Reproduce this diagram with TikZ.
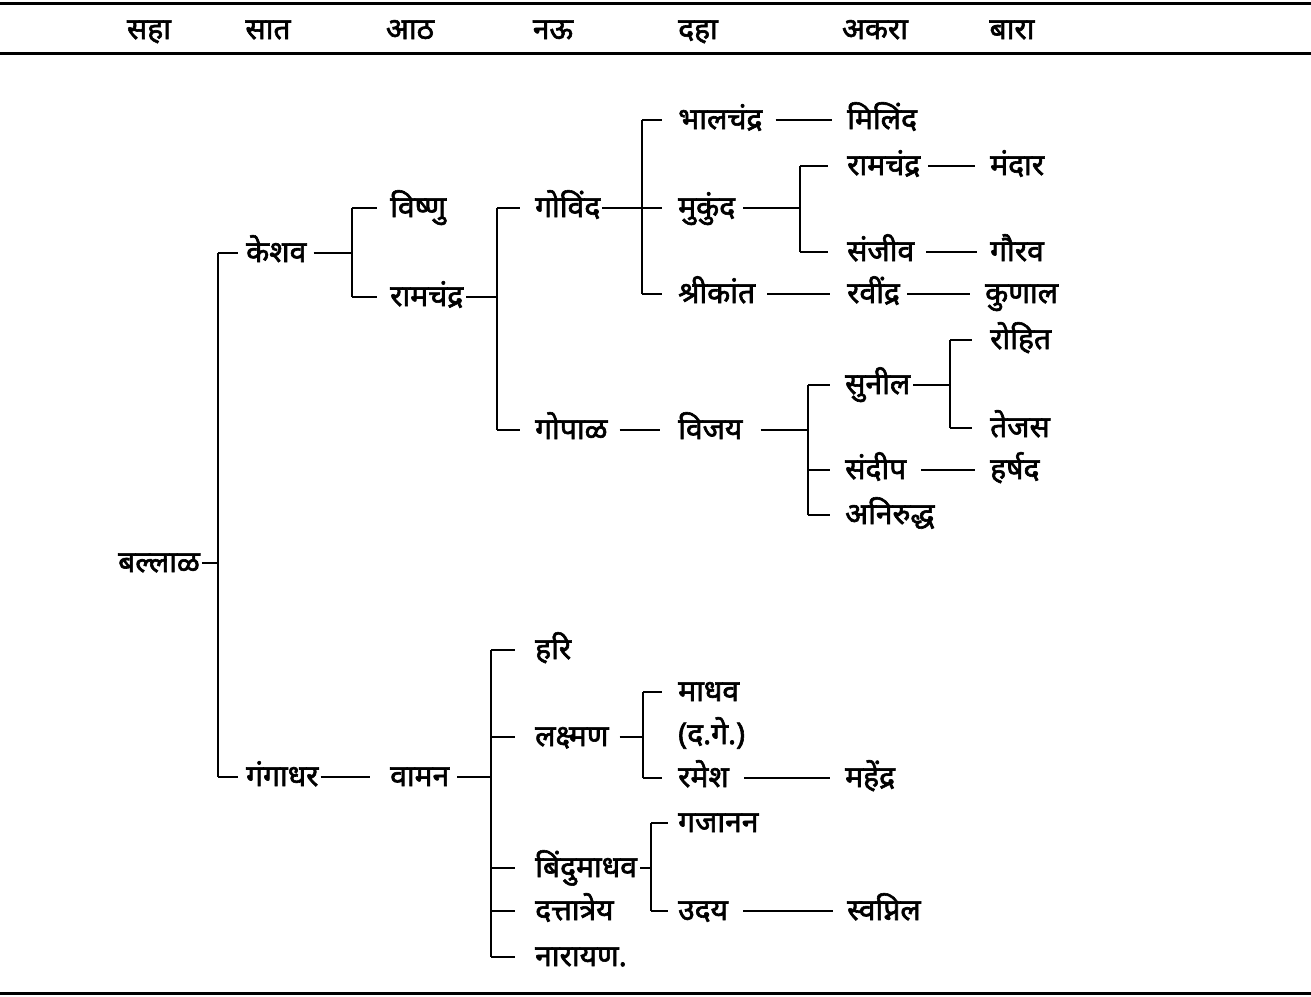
\documentclass[tikz,border=0pt]{standalone}
\usepackage{fontspec}
\setmainfont{Noto Sans}[Script=Devanagari, FakeBold=2]
\newcommand{\tfont}{\fontsize{30}{36}\selectfont}
\begin{document}
\begin{tikzpicture}[x=1pt,y=-1pt,
  person/.style={anchor=west, inner sep=0pt, text height=22pt, text depth=4pt, font=\tfont},
  hdr/.style={anchor=center, inner sep=0pt, text height=22pt, text depth=4pt, font=\tfont},
  link/.style={line width=2.6pt, line cap=butt},
  rule/.style={line width=3pt}]
\useasboundingbox (0,0) rectangle (1311,996);
% rules
\draw[rule] (0,3) -- (1311,3);
\draw[rule] (0,53) -- (1311,53);
\draw[rule] (0,993) -- (1311,993);
% header
\node[hdr] (h6) at (149,30) {सहा};
\node[hdr] (h7) at (268,30) {सात};
\node[hdr] (h8) at (410,30) {आठ};
\node[hdr] (h9) at (553,30) {नऊ};
\node[hdr] (h10) at (698,30) {दहा};
\node[hdr] (h11) at (875,30) {अकरा};
\node[hdr] (h12) at (1012,30) {बारा};
% people
\node[person] (ballal) at (118,563) {बल्लाळ};
\node[person] (keshav) at (246,253) {केशव};
\node[person] (gangadhar) at (246,777) {गंगाधर};
\node[person] (vishnu) at (390,208) {विष्णु};
\node[person] (ramA) at (390,297) {रामचंद्र};
\node[person] (govind) at (535,208) {गोविंद};
\node[person] (gopal) at (535,430) {गोपाळ};
\node[person] (bhal) at (678,120) {भालचंद्र};
\node[person] (milind) at (847,120) {मिलिंद};
\node[person] (mukund) at (678,208) {मुकुंद};
\node[person] (ramB) at (847,166) {रामचंद्र};
\node[person] (mandar) at (990,166) {मंदार};
\node[person] (sanjiv) at (847,252) {संजीव};
\node[person] (gaurav) at (990,252) {गौरव};
\node[person] (shrikant) at (678,294) {श्रीकांत};
\node[person] (ravindra) at (847,294) {रवींद्र};
\node[person] (kunal) at (985,294) {कुणाल};
\node[person] (vijay) at (678,430) {विजय};
\node[person] (sunil) at (845,385) {सुनील};
\node[person] (rohit) at (990,340) {रोहित};
\node[person] (tejas) at (990,428) {तेजस};
\node[person] (sandip) at (845,470) {संदीप};
\node[person] (harshad) at (990,470) {हर्षद};
\node[person] (aniruddha) at (845,515) {अनिरुद्ध};
\node[person] (vaman) at (390,777) {वामन};
\node[person] (hari) at (535,650) {हरि};
\node[person] (laxman) at (535,737) {लक्ष्मण};
\node[person] (madhav) at (678,692) {माधव};
\node[person] (dage) at (678,735) {(द.गे.)};
\node[person] (ramesh) at (678,778) {रमेश};
\node[person] (mahendra) at (845,778) {महेंद्र};
\node[person] (bindu) at (535,868) {बिंदुमाधव};
\node[person] (gajanan) at (678,823) {गजानन};
\node[person] (uday) at (678,911) {उदय};
\node[person] (swapnil) at (847,911) {स्वप्निल};
\node[person] (datta) at (535,911) {दत्तात्रेय};
\node[person] (narayan) at (535,957) {नारायण.};
% junctions
\coordinate (J1) at (218,563);
\coordinate (J2) at (352,253);
\coordinate (J3) at (497,297);
\coordinate (J4) at (642,208);
\coordinate (J5) at (800,208);
\coordinate (J6) at (808,430);
\coordinate (J7) at (950,385);
\coordinate (J8) at (491,777);
\coordinate (J9) at (643,737);
\coordinate (J10) at (651,868);
% brackets
\draw[link, shorten <=2pt] (ballal.east) -- (J1);
\draw[link] (J1 |- keshav.west) -- (J1 |- gangadhar.west);
\draw[link] (J1 |- keshav.west) -- ([xshift=-8pt]keshav.west);
\draw[link] (J1 |- gangadhar.west) -- ([xshift=-8pt]gangadhar.west);

\draw[link, shorten <=7pt] (keshav.east) -- (J2);
\draw[link] (J2 |- vishnu.west) -- (J2 |- ramA.west);
\draw[link] (J2 |- vishnu.west) -- ([xshift=-13pt]vishnu.west);
\draw[link] (J2 |- ramA.west) -- ([xshift=-13pt]ramA.west);

\draw[link, shorten <=3pt] (ramA.east) -- (J3);
\draw[link] (J3 |- govind.west) -- (J3 |- gopal.west);
\draw[link] (J3 |- govind.west) -- ([xshift=-15pt]govind.west);
\draw[link] (J3 |- gopal.west) -- ([xshift=-15pt]gopal.west);

\draw[link, shorten <=2pt] (govind.east) -- (J4);
\draw[link] (J4 |- bhal.west) -- (J4 |- shrikant.west);
\draw[link] (J4 |- bhal.west) -- ([xshift=-16pt]bhal.west);
\draw[link] (J4 |- mukund.west) -- ([xshift=-16pt]mukund.west);
\draw[link] (J4 |- shrikant.west) -- ([xshift=-16pt]shrikant.west);

\draw[link, shorten <=8pt] (mukund.east) -- (J5);
\draw[link] (J5 |- ramB.west) -- (J5 |- sanjiv.west);
\draw[link] (J5 |- ramB.west) -- ([xshift=-19pt]ramB.west);
\draw[link] (J5 |- sanjiv.west) -- ([xshift=-19pt]sanjiv.west);

\draw[link, shorten <=18pt] (vijay.east) -- (J6);
\draw[link] (J6 |- sunil.west) -- (J6 |- aniruddha.west);
\draw[link] (J6 |- sunil.west) -- ([xshift=-15pt]sunil.west);
\draw[link] (J6 |- sandip.west) -- ([xshift=-15pt]sandip.west);
\draw[link] (J6 |- aniruddha.west) -- ([xshift=-15pt]aniruddha.west);

\draw[link, shorten <=3pt] (sunil.east) -- (J7);
\draw[link] (J7 |- rohit.west) -- (J7 |- tejas.west);
\draw[link] (J7 |- rohit.west) -- ([xshift=-18pt]rohit.west);
\draw[link] (J7 |- tejas.west) -- ([xshift=-18pt]tejas.west);

\draw[link, shorten <=8pt] (vaman.east) -- (J8);
\draw[link] (J8 |- hari.west) -- (J8 |- narayan.west);
\draw[link] (J8 |- hari.west) -- ([xshift=-20pt]hari.west);
\draw[link] (J8 |- laxman.west) -- ([xshift=-20pt]laxman.west);
\draw[link] (J8 |- bindu.west) -- ([xshift=-20pt]bindu.west);
\draw[link] (J8 |- datta.west) -- ([xshift=-20pt]datta.west);
\draw[link] (J8 |- narayan.west) -- ([xshift=-20pt]narayan.west);

\draw[link, shorten <=11pt] (laxman.east) -- (J9);
\draw[link] (J9 |- madhav.west) -- (J9 |- ramesh.west);
\draw[link] (J9 |- madhav.west) -- ([xshift=-16pt]madhav.west);
\draw[link] (J9 |- ramesh.west) -- ([xshift=-16pt]ramesh.west);

\draw[link, shorten <=3pt] (bindu.east) -- (J10);
\draw[link] (J10 |- gajanan.west) -- (J10 |- uday.west);
\draw[link] (J10 |- gajanan.west) -- ([xshift=-10pt]gajanan.west);
\draw[link] (J10 |- uday.west) -- ([xshift=-10pt]uday.west);
% chains
\draw[link, shorten <=2pt, shorten >=20pt] (gangadhar.east) -- (vaman.west);
\draw[link, shorten <=13pt, shorten >=15pt] (bhal.east) -- (milind.west);
\draw[link, shorten <=8pt, shorten >=15pt] (ramB.east) -- (mandar.west);
\draw[link, shorten <=12pt, shorten >=13pt] (sanjiv.east) -- (gaurav.west);
\draw[link, shorten <=12pt, shorten >=17pt] (shrikant.east) -- (ravindra.west);
\draw[link, shorten <=7pt, shorten >=15pt] (ravindra.east) -- (kunal.west);
\draw[link, shorten <=12pt, shorten >=18pt] (gopal.east) -- (vijay.west);
\draw[link, shorten <=15pt, shorten >=15pt] (sandip.east) -- (harshad.west);
\draw[link, shorten <=15pt, shorten >=15pt] (ramesh.east) -- (mahendra.west);
\draw[link, shorten <=15pt, shorten >=14pt] (uday.east) -- (swapnil.west);
\end{tikzpicture}
\end{document}
